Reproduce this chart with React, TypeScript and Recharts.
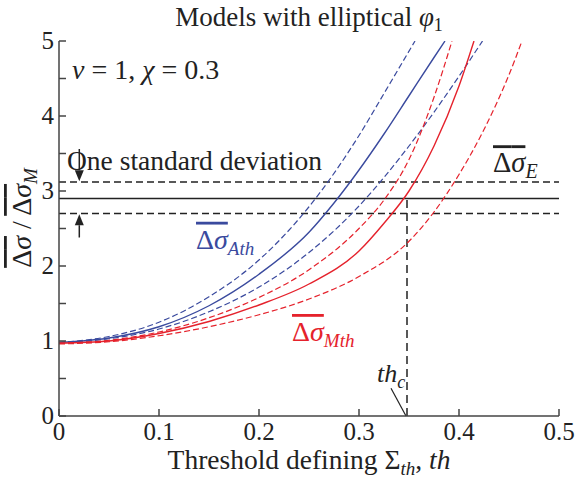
import React from 'react';
import { LineChart, Line, XAxis, YAxis, ReferenceLine, ReferenceDot } from 'recharts';

// ---- data ----
const xTicks = [0, 0.1, 0.2, 0.3, 0.4, 0.5];
const yTicks = [0, 0.5, 1, 1.5, 2, 2.5, 3, 3.5, 4, 4.5, 5];

const thBlueUpper = [0, 0.05, 0.1, 0.15, 0.2, 0.25, 0.3, 0.325, 0.356];
const vBlueUpper = [0.98, 1.06, 1.25, 1.59, 2.08, 2.79, 3.74, 4.3, 5];

const thBlueMid = [0, 0.05, 0.1, 0.15, 0.2, 0.25, 0.275, 0.3, 0.325, 0.35, 0.375, 0.386];
const vBlueMid = [0.98, 1.04, 1.19, 1.47, 1.89, 2.45, 2.84, 3.28, 3.76, 4.27, 4.78, 5];

const thBlueLower = [0, 0.05, 0.1, 0.15, 0.2, 0.25, 0.3, 0.35, 0.4, 0.4235];
const vBlueLower = [0.98, 1.03, 1.16, 1.39, 1.72, 2.18, 2.8, 3.6, 4.53, 5];

const thRedUpper = [0, 0.05, 0.1, 0.15, 0.2, 0.25, 0.3, 0.325, 0.35, 0.375, 0.393];
const vRedUpper = [0.97, 1.01, 1.12, 1.31, 1.58, 1.95, 2.5, 2.88, 3.42, 4.25, 5];

const thRedMid = [0, 0.05, 0.1, 0.15, 0.2, 0.25, 0.3, 0.325, 0.35, 0.375, 0.4, 0.415];
const vRedMid = [0.97, 1.0, 1.1, 1.26, 1.48, 1.76, 2.2, 2.57, 3.0, 3.6, 4.4, 5];

const thRedLower = [0, 0.05, 0.1, 0.15, 0.2, 0.25, 0.3, 0.35, 0.375, 0.4, 0.425, 0.45, 0.463];
const vRedLower = [0.96, 0.99, 1.07, 1.19, 1.35, 1.56, 1.86, 2.33, 2.72, 3.22, 3.82, 4.55, 5];

const meanE = 2.9;
const stdUpper = 3.12;
const stdLower = 2.7;
const thC = 0.348;

const toRows = (th: number[], v: number[]) => th.map((t, i) => ({ th: t, v: v[i] }));

const BLUE = '#3a4a9e';
const RED = '#e5222c';
const FRAME = '#444';
const FONT = "'Liberation Serif'";

const BottomTick = (p: any) => {
  const { x, y, payload } = p;
  return (
    <g>
      <line x1={x} y1={y} x2={x} y2={y - 7} stroke={FRAME} strokeWidth={1.5} />
      <text x={x} y={y + 24} textAnchor="middle" fontFamily={FONT} fontSize={25} fill="#222">
        {String(payload.value)}
      </text>
    </g>
  );
};
const TopTick = (p: any) => {
  const { x, y } = p;
  return <line x1={x} y1={y} x2={x} y2={y + 7} stroke={FRAME} strokeWidth={1.5} />;
};
const LeftTick = (p: any) => {
  const { x, y, payload } = p;
  const major = Number.isInteger(payload.value);
  return (
    <g>
      <line x1={x} y1={y} x2={x + 7} y2={y} stroke={FRAME} strokeWidth={1.5} />
      {major && (
        <text x={x - 5} y={y + 8} textAnchor="end" fontFamily={FONT} fontSize={25} fill="#222">
          {String(payload.value)}
        </text>
      )}
    </g>
  );
};
const RightTick = (p: any) => {
  const { x, y } = p;
  return <line x1={x} y1={y} x2={x - 7} y2={y} stroke={FRAME} strokeWidth={1.5} />;
};

const arrowShape = (p: any) => {
  const { x1, y1, x2, y2 } = p;
  const dx = x2 - x1, dy = y2 - y1;
  const len = Math.sqrt(dx * dx + dy * dy) || 1;
  const ux = dx / len, uy = dy / len;
  const hl = 11, hw = 4.5;
  const bx = x2 - ux * hl, by = y2 - uy * hl;
  const pts = `${x2},${y2} ${bx - uy * hw},${by + ux * hw} ${bx + uy * hw},${by - ux * hw}`;
  return (
    <g>
      <line x1={x1} y1={y1} x2={bx} y2={by} stroke="#222" strokeWidth={1.5} />
      <polygon points={pts} fill="#222" />
    </g>
  );
};

const textShape = (render: (cx: number, cy: number) => React.ReactElement) => (p: any) => render(p.cx, p.cy);

const ids = { xAxisId: 'b', yAxisId: 'l' } as const;

const DS = (color: string) => (
  <tspan textDecoration="overline" fill={color}>Δ<tspan fontStyle="italic">σ</tspan></tspan>
);

export default function App() {
  return (
    <div style={{ position: 'absolute', left: 0, top: 0, width: 575, height: 481, background: '#fff' }}>
      <LineChart width={575} height={481} margin={{ top: 41, right: 16, bottom: 0, left: 0 }}>
        <XAxis xAxisId="b" type="number" dataKey="th" domain={[0, 0.5]} ticks={xTicks} orientation="bottom" height={65}
          tickLine={false} tickSize={0} tickMargin={0} tick={BottomTick} axisLine={{ stroke: FRAME, strokeWidth: 1.5 }} allowDataOverflow />
        <XAxis xAxisId="t" type="number" dataKey="th" domain={[0, 0.5]} ticks={xTicks} orientation="top" height={0}
          tickLine={false} tickSize={0} tickMargin={0} tick={TopTick} axisLine={{ stroke: FRAME, strokeWidth: 1.5 }} allowDataOverflow />
        <YAxis yAxisId="l" type="number" domain={[0, 5]} ticks={yTicks} width={59}
          tickLine={false} tickSize={0} tickMargin={0} tick={LeftTick} axisLine={{ stroke: FRAME, strokeWidth: 1.5 }} allowDataOverflow />
        <YAxis yAxisId="r" orientation="right" type="number" domain={[0, 5]} ticks={yTicks} width={0}
          tickLine={false} tickSize={0} tickMargin={0} tick={RightTick} axisLine={{ stroke: FRAME, strokeWidth: 1.5 }} allowDataOverflow />

        <ReferenceLine {...ids} y={stdUpper} stroke="#222" strokeWidth={1.5} strokeDasharray="7 4" />
        <ReferenceLine {...ids} y={meanE} stroke="#222" strokeWidth={1.5} />
        <ReferenceLine {...ids} y={stdLower} stroke="#222" strokeWidth={1.5} strokeDasharray="7 4" />
        <ReferenceLine {...ids} segment={[{ x: thC, y: 0 }, { x: thC, y: meanE }]} stroke="#222" strokeWidth={1.5} strokeDasharray="8 5" />
        <ReferenceLine {...ids} segment={[{ x: 0.332, y: 0.37 }, { x: 0.347, y: 0 }]} stroke="#222" strokeWidth={1.2} />
        <ReferenceLine {...ids} segment={[{ x: 0.0203, y: 3.56 }, { x: 0.0203, y: 3.13 }]} shape={arrowShape} />
        <ReferenceLine {...ids} segment={[{ x: 0.0203, y: 2.38 }, { x: 0.0203, y: 2.69 }]} shape={arrowShape} />

        <Line {...ids} data={toRows(thBlueUpper, vBlueUpper)} dataKey="v" type="monotone" stroke={BLUE} strokeWidth={1.2} strokeDasharray="6 3" dot={false} isAnimationActive={false} />
        <Line {...ids} data={toRows(thBlueMid, vBlueMid)} dataKey="v" type="monotone" stroke={BLUE} strokeWidth={1.4} dot={false} isAnimationActive={false} />
        <Line {...ids} data={toRows(thBlueLower, vBlueLower)} dataKey="v" type="monotone" stroke={BLUE} strokeWidth={1.2} strokeDasharray="6 3" dot={false} isAnimationActive={false} />
        <Line {...ids} data={toRows(thRedUpper, vRedUpper)} dataKey="v" type="monotone" stroke={RED} strokeWidth={1.2} strokeDasharray="6 3" dot={false} isAnimationActive={false} />
        <Line {...ids} data={toRows(thRedMid, vRedMid)} dataKey="v" type="monotone" stroke={RED} strokeWidth={1.4} dot={false} isAnimationActive={false} />
        <Line {...ids} data={toRows(thRedLower, vRedLower)} dataKey="v" type="monotone" stroke={RED} strokeWidth={1.2} strokeDasharray="6 3" dot={false} isAnimationActive={false} />

        <ReferenceDot {...ids} x={0.25} y={5.2} r={0} ifOverflow="visible" stroke="none" fill="none"
          shape={textShape((cx, cy) => (
            <text x={cx} y={cy} textAnchor="middle" fontFamily={FONT} fontSize={27} fill="#222">
              Models with elliptical <tspan fontStyle="italic">φ</tspan>
              <tspan fontSize={18} dy={5}>1</tspan>
            </text>
          ))}
        />
        <ReferenceDot {...ids} x={0.013} y={4.5} r={0} ifOverflow="visible" stroke="none" fill="none"
          shape={textShape((cx, cy) => (
            <text x={cx} y={cy} fontFamily={FONT} fontSize={28} fill="#222">
              <tspan fontStyle="italic">ν</tspan> = 1, <tspan fontStyle="italic">χ</tspan> = 0.3
            </text>
          ))}
        />
        <ReferenceDot {...ids} x={0.008} y={3.28} r={0} ifOverflow="visible" stroke="none" fill="none"
          shape={textShape((cx, cy) => (
            <text x={cx} y={cy} fontFamily={FONT} fontSize={27.5} fill="#222">One standard deviation</text>
          ))}
        />
        <ReferenceDot {...ids} x={0.434} y={3.25} r={0} ifOverflow="visible" stroke="none" fill="none"
          shape={textShape((cx, cy) => (
            <text x={cx} y={cy} fontFamily={FONT} fontSize={28.5} fill="#222">
              {DS('#222')}
              <tspan fontStyle="italic" fontSize={20} dy={6}>E</tspan>
            </text>
          ))}
        />
        <ReferenceDot {...ids} x={0.137} y={2.23} r={0} ifOverflow="visible" stroke="none" fill="none"
          shape={textShape((cx, cy) => (
            <text x={cx} y={cy} fontFamily={FONT} fontSize={28} fill={BLUE}>
              {DS(BLUE)}
              <tspan fontStyle="italic" fontSize={19} dy={6}>Ath</tspan>
            </text>
          ))}
        />
        <ReferenceDot {...ids} x={0.233} y={1.0} r={0} ifOverflow="visible" stroke="none" fill="none"
          shape={textShape((cx, cy) => (
            <text x={cx} y={cy} fontFamily={FONT} fontSize={28} fill={RED}>
              {DS(RED)}
              <tspan fontStyle="italic" fontSize={19} dy={6}>Mth</tspan>
            </text>
          ))}
        />
        <ReferenceDot {...ids} x={0.318} y={0.45} r={0} ifOverflow="visible" stroke="none" fill="none"
          shape={textShape((cx, cy) => (
            <text x={cx} y={cy} fontFamily={FONT} fontSize={26} fill="#222">
              <tspan fontStyle="italic">th</tspan>
              <tspan fontStyle="italic" fontSize={18} dy={6}>c</tspan>
            </text>
          ))}
        />
        <ReferenceDot {...ids} x={0.25} y={-0.7} r={0} ifOverflow="visible" stroke="none" fill="none"
          shape={textShape((cx, cy) => (
            <text x={cx} y={cy} textAnchor="middle" fontFamily={FONT} fontSize={27.5} fill="#222">
              Threshold defining Σ<tspan fontStyle="italic" fontSize={19} dy={6}>th</tspan>
              <tspan dy={-6}>, </tspan><tspan fontStyle="italic">th</tspan>
            </text>
          ))}
        />
        <ReferenceDot {...ids} x={-0.028} y={2.64} r={0} ifOverflow="visible" stroke="none" fill="none"
          shape={textShape((cx, cy) => (
            <text x={cx} y={cy} textAnchor="middle" transform={`rotate(-90, ${cx}, ${cy})`} fontFamily={FONT} fontSize={28} fill="#222">
              {DS('#222')}
              <tspan> / </tspan>
              {DS('#222')}
              <tspan fontStyle="italic" fontSize={19} dy={6}>M</tspan>
            </text>
          ))}
        />
      </LineChart>
    </div>
  );
}
